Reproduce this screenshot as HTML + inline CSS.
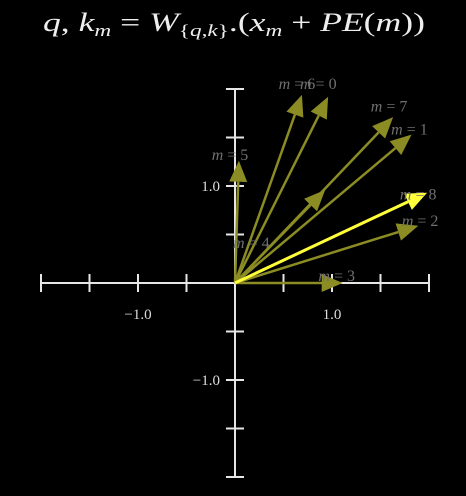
<!DOCTYPE html>
<html><head><meta charset="utf-8">
<style>
html,body{margin:0;padding:0;background:#000;}
svg{display:block;}
text{font-family:"Liberation Serif","DejaVu Serif",serif;}
</style></head>
<body>
<svg id="chart" width="466" height="496" viewBox="0 0 466 496">
  <text x="43" y="31" font-size="26" fill="#eee" textLength="382" lengthAdjust="spacingAndGlyphs"><tspan font-style="italic">q</tspan>, <tspan font-style="italic">k</tspan><tspan font-style="italic" font-size="17" dy="5">m</tspan><tspan dy="-5"> = </tspan><tspan font-style="italic">W</tspan><tspan font-size="17" dy="5">{<tspan font-style="italic">q</tspan>,<tspan font-style="italic">k</tspan>}</tspan><tspan dy="-5">.(</tspan><tspan font-style="italic">x</tspan><tspan font-style="italic" font-size="17" dy="5">m</tspan><tspan dy="-5"> + </tspan><tspan font-style="italic">PE</tspan>(<tspan font-style="italic">m</tspan>))</text>
  <g id="axes"></g>
  <g id="vectors"></g>
  <g id="labels"></g>
</svg>
<script>
const names = ["m = 0","m = 1","m = 2","m = 3","m = 4","m = 5","m = 6","m = 7","m = 8"];
const vx = [0.96,1.82,1.89,1.11,0.93,0.04,0.69,1.63,1.98];
const vy = [1.92,1.53,0.59,0.00,0.96,1.26,1.94,1.71,0.93];
const labelX = [0.67,1.61,1.72,0.86,-0.02,-0.24,0.45,1.40,1.70];
const labelY = [2.00,1.53,0.59,0.02,0.36,1.27,2.00,1.77,0.86];
const highlight = [false,false,false,false,false,false,false,false,true];
const xTicks = [-2,-1.5,-1,-0.5,0.5,1,1.5,2];
const yTicks = [-2,-1.5,-1,-0.5,0.5,1,1.5,2];
const xTickLabels = [[-1,"\u22121.0"],[1,"1.0"]];
const yTickLabels = [[-1,"\u22121.0"],[1,"1.0"]];

const OX=235, OY=283, U=97;
const sx = v => OX + v*U;
const sy = v => OY - v*U;
const NS="http://www.w3.org/2000/svg";
function mk(tag, attrs, parent){const e=document.createElementNS(NS,tag);for(const k in attrs)e.setAttribute(k,attrs[k]);parent.appendChild(e);return e;}

const axes=document.getElementById('axes');
let e;
e=mk('line',{x1:sx(-2),y1:OY,x2:sx(2),y2:OY,stroke:'#e6e6e6','stroke-width':2},axes);


e=mk('line',{x1:OX,y1:sy(2),x2:OX,y2:sy(-2),stroke:'#e6e6e6','stroke-width':2},axes);


xTicks.forEach(t=>{
  const l=mk('line',{x1:sx(t),y1:OY-9,x2:sx(t),y2:OY+9,stroke:'#e6e6e6','stroke-width':2},axes);
  
  
});
yTicks.forEach(t=>{
  const l=mk('line',{x1:OX-9,y1:sy(t),x2:OX+9,y2:sy(t),stroke:'#e6e6e6','stroke-width':2},axes);
  
  
});
xTickLabels.forEach(([v,s])=>{
  const t=mk('text',{x:sx(v),y:OY+36,'font-size':15,fill:'#ddd','text-anchor':'middle'},axes);
  t.textContent=s;
  
  
});
yTickLabels.forEach(([v,s])=>{
  const t=mk('text',{x:OX-15,y:sy(v)+5,'font-size':15,fill:'#ddd','text-anchor':'end'},axes);
  t.textContent=s;
  
  
});

const vg=document.getElementById('vectors');
const order=[...names.keys()].sort((a,b)=>(highlight[a]?1:0)-(highlight[b]?1:0));
order.forEach(i=>{
  const x2=sx(vx[i]), y2=sy(vy[i]);
  const dx=x2-OX, dy=y2-OY, len=Math.hypot(dx,dy)||1;
  const ux=dx/len, uy=dy/len, hl=21, hw=9;
  const bx=x2-ux*hl, by=y2-uy*hl;
  const col=highlight[i]?'#ffff3a':'#8c8c24';
  const g=mk('g',{},vg);
  
  
  mk('line',{x1:OX,y1:OY,x2:bx,y2:by,stroke:col,'stroke-width':highlight[i]?3:2.5},g);
  mk('polygon',{points:`${x2},${y2} ${bx-uy*hw},${by+ux*hw} ${bx+uy*hw},${by-ux*hw}`,fill:col},g);
});

const lg=document.getElementById('labels');
names.forEach((n,i)=>{
  const t=mk('text',{x:sx(labelX[i]),y:sy(labelY[i]),'font-size':16,fill:'#707070'},lg);
  t.innerHTML='<tspan font-style="italic">m</tspan>'+n.slice(1);
  
  
});
</script>
</body></html>
